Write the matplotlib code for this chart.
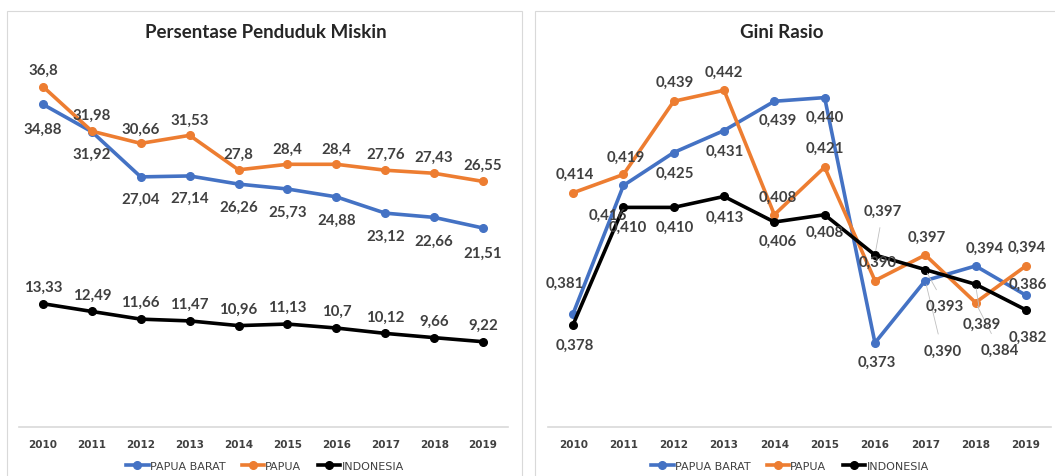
import matplotlib
matplotlib.use("Agg")
import matplotlib.pyplot as plt
from matplotlib.lines import Line2D
from matplotlib.patches import Rectangle

years = ["2010", "2011", "2012", "2013", "2014", "2015", "2016", "2017", "2018", "2019"]
series_names = ["PAPUA BARAT", "PAPUA", "INDONESIA"]

miskin_papua_barat = [34.88, 31.92, 27.04, 27.14, 26.26, 25.73, 24.88, 23.12, 22.66, 21.51]
miskin_papua = [36.8, 31.98, 30.66, 31.53, 27.8, 28.4, 28.4, 27.76, 27.43, 26.55]
miskin_indonesia = [13.33, 12.49, 11.66, 11.47, 10.96, 11.13, 10.7, 10.12, 9.66, 9.22]

gini_papua_barat = [0.381, 0.416, 0.425, 0.431, 0.439, 0.440, 0.373, 0.390, 0.394, 0.386]
gini_papua = [0.414, 0.419, 0.439, 0.442, 0.408, 0.421, 0.390, 0.397, 0.384, 0.394]
gini_indonesia = [0.378, 0.410, 0.410, 0.413, 0.406, 0.408, 0.397, 0.393, 0.389, 0.382]

colors = ["#4472C4", "#ED7D31", "#000000"]
label_color = "#404040"
narrow = ["Liberation Sans Narrow", "DejaVu Sans"]
plt.rcParams["font.family"] = ["Lato", "DejaVu Sans"]

# label offsets in pixels (dx, dy; dy positive = downward)
off_miskin = [
    [(0, 24), (0, 22), (0, 22), (0, 22), (0, 23), (0, 23), (0, 23), (0, 23), (0, 23), (0, 25)],
    [(0, -17), (0, -16), (0, -15), (0, -16), (0, -16), (0, -16), (0, -16), (0, -16), (0, -16), (0, -17)],
    [(0, -17), (0, -17), (0, -17), (0, -17), (0, -17), (0, -17), (0, -17), (0, -17), (0, -17), (0, -17)],
]
off_gini = [
    [(-8, -31), (-16, 29), (1, 20), (1, 20), (3, 19), (0, 19), (2, 19), (17, 70), (9, -18), (2, -11)],
    [(2, -19), (2, -18), (1, -19), (0, -18), (3, -18), (0, -19), (3, -19), (2, -18), (24, 47), (1, -19)],
    [(2, 20), (4, 19), (1, 19), (1, 20), (3, 19), (0, 17), (8, -44), (20, 36), (6, 40), (2, 27)],
]
leader = {(0, 7), (1, 8), (2, 6), (2, 7), (2, 8)}

fig = plt.figure(figsize=(10.55, 4.77), dpi=100)
W, H = 1055, 477


def px_axes(x0, x1, ytop, ybot):
    return fig.add_axes([x0 / W, 1 - ybot / H, (x1 - x0) / W, (ybot - ytop) / H])


# panel frames
fig.patches.append(Rectangle((7 / W, -0.1), (522 - 7) / W, 1 - 12 / H + 0.1,
                             transform=fig.transFigure, fill=False, ec="#d9d9d9", lw=0.8))
fig.patches.append(Rectangle((535 / W, -0.1), (1060 - 535) / W, 1 - 12 / H + 0.1,
                             transform=fig.transFigure, fill=False, ec="#d9d9d9", lw=0.8))

ax1 = px_axes(18.5, 507.5, 58, 428)
ax2 = px_axes(548, 1051, 62, 428)


def draw(ax, data, offsets, fmt, ylim, is_gini):
    x = list(range(len(years)))
    for i, vals in enumerate(data):
        ax.plot(x, vals, color=colors[i], lw=2.6, marker="o", ms=5.5, zorder=2 + i,
                solid_joinstyle="round")
    for i, vals in enumerate(data):
        for j, v in enumerate(vals):
            dx, dy = offsets[i][j]
            props = None
            if is_gini and (i, j) in leader:
                props = dict(arrowstyle="-", color="#bfbfbf", lw=0.6, shrinkA=5, shrinkB=3)
            ax.annotate(fmt(v), (j, v), xytext=(dx * 0.72, -dy * 0.72),
                        textcoords="offset points", ha="center", va="center",
                        fontsize=10.8, fontweight="bold", color=label_color,
                        arrowprops=props, zorder=10)
    ax.set_xlim(-0.5, len(years) - 0.5)
    ax.set_ylim(*ylim)
    ax.set_xticks(x)
    ax.set_xticklabels(years, fontsize=7.5, fontweight="bold", color=label_color, family=narrow)
    ax.tick_params(axis="x", length=0, pad=9)
    ax.set_yticks([])
    for s in ["top", "right", "left"]:
        ax.spines[s].set_visible(False)
    ax.spines["bottom"].set_color("#d9d9d9")
    ax.spines["bottom"].set_linewidth(1.2)
    ax.patch.set_alpha(0)


draw(ax1, [miskin_papua_barat, miskin_papua, miskin_indonesia], off_miskin,
     lambda v: str(v).replace(".", ","), (0, 40), False)
draw(ax2, [gini_papua_barat, gini_papua, gini_indonesia], off_gini,
     lambda v: ("%.3f" % v).replace(".", ","), (0.35, 0.45), True)

fig.text(266 / W, 1 - 33 / H, "Persentase Penduduk Miskin", ha="center", va="center",
         fontsize=13.5, fontweight="bold", color="#262626")
fig.text(782 / W, 1 - 33 / H, "Gini Rasio", ha="center", va="center",
         fontsize=13.5, fontweight="bold", color="#262626")

handles = [Line2D([], [], color=c, lw=2.6, marker="o", ms=5.5) for c in colors]
for cx in (265, 790):
    fig.legend(handles, series_names, loc="center", bbox_to_anchor=(cx / W, 1 - 467 / H),
               ncol=3, frameon=False, handlelength=2.0, handletextpad=0.1, columnspacing=1.5,
               prop=dict(family=narrow, size=8), labelcolor=label_color)

fig.savefig("out.png", dpi=100)
